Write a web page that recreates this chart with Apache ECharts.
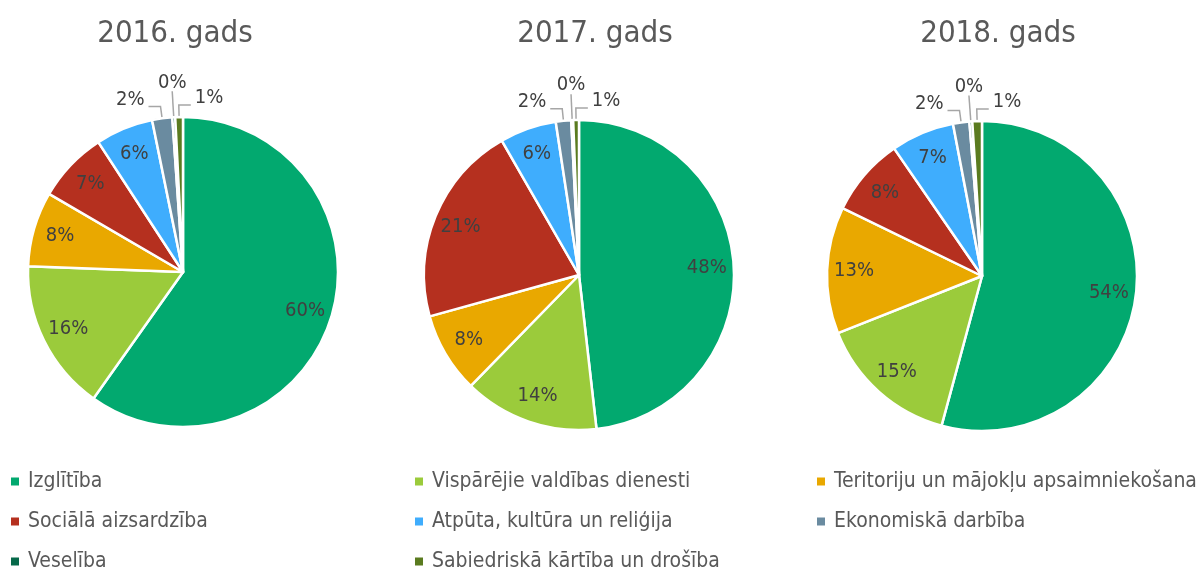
<!DOCTYPE html>
<html>
<head>
<meta charset="utf-8">
<script src="https://cdn.jsdelivr.net/npm/echarts@6/dist/echarts.min.js"></script>
<style>
html, body { margin: 0; padding: 0; background: #fff; }
#chart { width: 1200px; height: 574px; }
</style>
</head>
<body>
<div id="chart"></div>
<script>
// categories in slice order (clockwise from 12 o'clock)
const categories = [
  "Izglītība",
  "Vispārējie valdības dienesti",
  "Teritoriju un mājokļu apsaimniekošana",
  "Sociālā aizsardzība",
  "Atpūta, kultūra un reliģija",
  "Ekonomiskā darbība",
  "Veselība",
  "Sabiedriskā kārtība un drošība"
];
const years = ["2016. gads", "2017. gads", "2018. gads"];
// shares, %
const share2016 = [59.8, 15.8, 7.8, 7.4, 6.0, 2.1, 0.3, 0.8];
const share2017 = [48.2, 14.1, 8.4, 21.0, 5.9, 1.6, 0.2, 0.6];
const share2018 = [54.2, 14.8, 13.2, 8.2, 6.6, 1.7, 0.3, 1.0];
const shares = [share2016, share2017, share2018];

const colors = ["#02a96f", "#9bcb3b", "#e9a800", "#b5301f", "#3fadfd", "#6a8ba0", "#06694a", "#5a7b1f"];
const font = "'DejaVu Sans Condensed', 'Liberation Sans Narrow', sans-serif";
const textGrey = "#595959";
const labelGrey = "#404040";

const pieCenters = [[183, 272], [579, 275], [982, 276]];
const titleX = [175, 595, 998];
const legendCols = [[0, 3, 6], [1, 4, 7], [2, 5]];
const legendX = [9, 413, 815];
const R = 155;
const last = categories.length - 1;

// small slices get outside labels; move them like the original (left / up / right)
function smallLabelLayout(vals) {
  return function (p) {
    const pts = p.labelLinePoints;
    if (!pts || vals[p.dataIndex] >= 3) return {};
    const a = pts[0], b = pts[1], c = pts[2];
    if (p.dataIndex === last) {
      const c2 = [b[0] + Math.abs(c[0] - b[0]), c[1]];
      return { x: c2[0] + 4, y: c2[1] + 3, align: "left", verticalAlign: "bottom", labelLinePoints: [a, b, c2] };
    }
    if (p.dataIndex === last - 1) {
      return { x: b[0], y: b[1] + 1, align: "center", verticalAlign: "bottom", labelLinePoints: [a, b, b] };
    }
    return { x: c[0] - 4, y: c[1] + 3, align: "right", verticalAlign: "bottom", labelLinePoints: pts };
  };
}

const series = [];
shares.forEach((vals, k) => {
  // pie itself + outside labels for tiny slices
  series.push({
    type: "pie",
    center: pieCenters[k],
    radius: [0, R],
    avoidLabelOverlap: false,
    percentPrecision: 0,
    itemStyle: { borderColor: "#fff", borderWidth: 2.5 },
    emphasis: { scale: false },
    label: {
      position: "outside",
      formatter: "{d}%",
      fontSize: 20,
      color: labelGrey,
      fontFamily: font
    },
    labelLine: { lineStyle: { color: "#a6a6a6", width: 1.5 } },
    labelLayout: smallLabelLayout(vals),
    data: categories.map((name, i) => {
      const small = vals[i] < 3;
      const up = i === last - 1;
      return {
        name: name,
        value: vals[i],
        label: { show: small },
        labelLine: { show: small, length: up ? 26 : 12, length2: up ? 0 : 12 }
      };
    })
  });
  // transparent ring that carries the inside labels further out
  series.push({
    type: "pie",
    center: pieCenters[k],
    radius: [95, R],
    silent: true,
    percentPrecision: 0,
    itemStyle: { color: "transparent", borderWidth: 0 },
    emphasis: { disabled: true },
    label: {
      position: "inside",
      formatter: "{d}%",
      fontSize: 20,
      color: labelGrey,
      fontFamily: font
    },
    labelLine: { show: false },
    data: categories.map((name, i) => ({
      name: name,
      value: vals[i],
      label: { show: vals[i] >= 3 }
    }))
  });
});

const chart = echarts.init(document.getElementById("chart"));
chart.setOption({
  animation: false,
  color: colors,
  textStyle: { fontFamily: font },
  title: years.map((t, k) => ({
    text: t,
    left: titleX[k],
    top: 18,
    padding: 0,
    textAlign: "center",
    textStyle: { fontSize: 31, fontWeight: "normal", color: textGrey, fontFamily: font }
  })),
  legend: legendCols.map((idx, k) => ({
    orient: "vertical",
    left: legendX[k],
    top: 471,
    padding: 0,
    itemGap: 19,
    itemWidth: 16,
    itemHeight: 10,
    icon: "path://M0,0H10V10H0Z",
    data: idx.map(i => categories[i]),
    textStyle: { fontSize: 21, color: textGrey, fontFamily: font }
  })),
  series: series
});
</script>
</body>
</html>
